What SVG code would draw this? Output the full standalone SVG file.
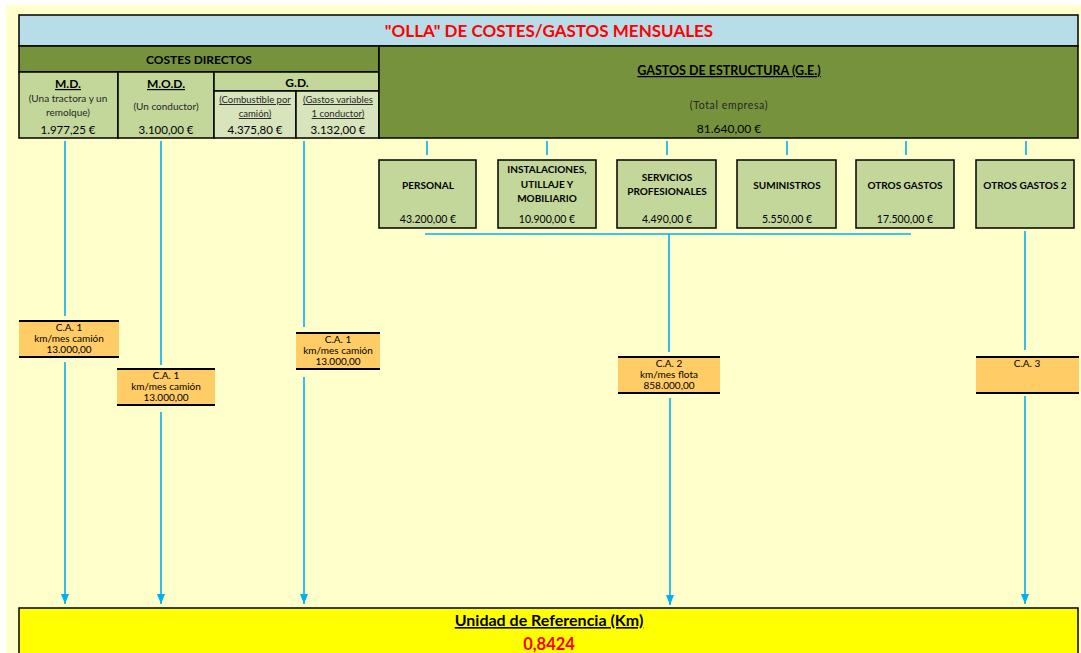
<svg xmlns="http://www.w3.org/2000/svg" width="1081" height="653" viewBox="0 0 1081 653">
<defs>
<marker id="arr" viewBox="0 0 10 8" refX="10" refY="4" markerWidth="10" markerHeight="8" markerUnits="userSpaceOnUse" orient="auto">
<path d="M0,0 L10,4 L0,8 Z" fill="#00B0F0"/>
</marker>
<style>
text{font-family:Lato,"Liberation Sans",sans-serif;fill:#000;text-anchor:middle}
.b{font-weight:bold}
.u{text-decoration:underline}
.s9{font-size:9.5px}
.s10{font-size:10px}
.s11{font-size:11.5px}
.s12{font-size:12px}
.nv{font-size:10.5px}
.ct{font-size:10px}
.cell{stroke:#000;stroke-width:1.5}
.node{fill:#C4D79B;stroke:#000;stroke-width:1.5}
.ca{fill:#FFCC66}
.cal{stroke:#000;stroke-width:2}
.ln{stroke:#00B0F0;stroke-width:1.6;fill:none}
.gray{fill:#262626}
</style>
</defs>
<rect x="0" y="0" width="1081" height="653" fill="#FFFFFF"/>
<rect x="6" y="5" width="1075" height="648" fill="#FFFFCC"/>

<g id="title">
<rect x="19" y="15" width="1059" height="31" fill="#B7DDE8" class="cell"/>
<text x="549" y="37" class="b" style="font-size:17px;fill:#FF0000">"OLLA" DE COSTES/GASTOS MENSUALES</text>
</g>

<g id="costes-directos">
<rect x="19" y="46" width="360" height="26" fill="#76923C" class="cell"/>
<text x="199" y="64" class="b s12">COSTES DIRECTOS</text>
</g>

<g id="md">
<rect x="19" y="72" width="99" height="66" fill="#C4D79B" class="cell"/>
<text x="68" y="88" class="b s12 u">M.D.</text>
<text x="68" y="102" class="s10 gray">(Una tractora y un</text>
<text x="68" y="116" class="s10 gray">remolque)</text>
<text x="68" y="134" class="s11">1.977,25 €</text>
</g>

<g id="mod">
<rect x="118" y="72" width="96" height="66" fill="#C4D79B" class="cell"/>
<text x="166" y="88" class="b s12 u">M.O.D.</text>
<text x="166" y="110" class="s10 gray">(Un conductor)</text>
<text x="166" y="134" class="s11">3.100,00 €</text>
</g>

<g id="gd">
<rect x="214" y="72" width="165" height="19" fill="#C4D79B" class="cell"/>
<text x="297" y="87" class="b s12">G.D.</text>
<rect x="214" y="91" width="82" height="47" fill="#D8E4BC" class="cell"/>
<rect x="296" y="91" width="83" height="47" fill="#D8E4BC" class="cell"/>
<text x="255" y="103" class="s9 gray u">(Combustible por</text>
<text x="255" y="117" class="s9 gray u">camión)</text>
<text x="255" y="134" class="s11">4.375,80 €</text>
<text x="338" y="103" class="s9 gray u">(Gastos variables</text>
<text x="338" y="117" class="s9 gray u">1 conductor)</text>
<text x="338" y="134" class="s11">3.132,00 €</text>
</g>

<g id="ge">
<rect x="379" y="46" width="699" height="92" fill="#76923C" class="cell"/>
<text x="729" y="75" class="b u" style="font-size:12.5px">GASTOS DE ESTRUCTURA (G.E.)</text>
<text x="729" y="109" class="gray" style="font-size:10.5px;letter-spacing:0.6px">(Total empresa)</text>
<text x="729" y="133" style="font-size:12px">81.640,00 €</text>
</g>

<g id="personal">
<rect x="379" y="160" width="97" height="68" class="node"/>
<text x="428" y="189" class="b s10">PERSONAL</text>
<text x="428" y="223" class="nv">43.200,00 €</text>
</g>
<g id="instalaciones">
<rect x="498" y="160" width="98" height="68" class="node"/>
<text x="547" y="173" class="b s10">INSTALACIONES,</text>
<text x="547" y="188" class="b s10">UTILLAJE Y</text>
<text x="547" y="202" class="b s10">MOBILIARIO</text>
<text x="547" y="223" class="nv">10.900,00 €</text>
</g>
<g id="servicios">
<rect x="617" y="160" width="99" height="68" class="node"/>
<text x="667" y="181" class="b s10">SERVICIOS</text>
<text x="667" y="195" class="b s10">PROFESIONALES</text>
<text x="667" y="223" class="nv">4.490,00 €</text>
</g>
<g id="suministros">
<rect x="737" y="160" width="99" height="68" class="node"/>
<text x="787" y="189" class="b s10">SUMINISTROS</text>
<text x="787" y="223" class="nv">5.550,00 €</text>
</g>
<g id="otros-gastos">
<rect x="856" y="160" width="98" height="68" class="node"/>
<text x="905" y="189" class="b s10">OTROS GASTOS</text>
<text x="905" y="223" class="nv">17.500,00 €</text>
</g>
<g id="otros-gastos-2">
<rect x="976" y="160" width="98" height="68" class="node"/>
<text x="1025" y="189" class="b s10">OTROS GASTOS 2</text>
</g>

<g id="ca1-md">
<rect x="19" y="321" width="100" height="36" class="ca"/>
<line x1="19" y1="321" x2="119" y2="321" class="cal"/>
<line x1="19" y1="357" x2="119" y2="357" class="cal"/>
<text x="69" y="331" class="ct">C.A. 1</text>
<text x="69" y="342" class="ct">km/mes camión</text>
<text x="69" y="353" class="ct">13.000,00</text>
</g>
<g id="ca1-mod">
<rect x="117" y="369" width="98" height="36" class="ca"/>
<line x1="117" y1="369" x2="215" y2="369" class="cal"/>
<line x1="117" y1="405" x2="215" y2="405" class="cal"/>
<text x="166" y="379" class="ct">C.A. 1</text>
<text x="166" y="390" class="ct">km/mes camión</text>
<text x="166" y="401" class="ct">13.000,00</text>
</g>
<g id="ca1-gd">
<rect x="296" y="333" width="84" height="36" class="ca"/>
<line x1="296" y1="333" x2="380" y2="333" class="cal"/>
<line x1="296" y1="369" x2="380" y2="369" class="cal"/>
<text x="338" y="343" class="ct">C.A. 1</text>
<text x="338" y="354" class="ct">km/mes camión</text>
<text x="338" y="365" class="ct">13.000,00</text>
</g>
<g id="ca2">
<rect x="618" y="357" width="102" height="36" class="ca"/>
<line x1="618" y1="357" x2="720" y2="357" class="cal"/>
<line x1="618" y1="393" x2="720" y2="393" class="cal"/>
<text x="669" y="367" class="ct">C.A. 2</text>
<text x="669" y="378" class="ct">km/mes flota</text>
<text x="669" y="389" class="ct">858.000,00</text>
</g>
<g id="ca3">
<rect x="976" y="357" width="103" height="36" class="ca"/>
<line x1="976" y1="357" x2="1079" y2="357" class="cal"/>
<line x1="976" y1="393" x2="1079" y2="393" class="cal"/>
<text x="1027" y="367" class="ct">C.A. 3</text>
</g>

<g id="unidad">
<rect x="19" y="608" width="1059" height="50" fill="#FFFF00" class="cell"/>
<text x="549" y="626" class="b u" style="font-size:16px">Unidad de Referencia (Km)</text>
<text x="549" y="650" class="b" style="font-size:16.5px;fill:#FF0000">0,8424</text>
</g>

<g id="connectors">
<line x1="65" y1="141" x2="65" y2="316" class="ln"/>
<line x1="65" y1="362" x2="65" y2="604" class="ln" marker-end="url(#arr)"/>
<line x1="161" y1="141" x2="161" y2="365" class="ln"/>
<line x1="161" y1="412" x2="161" y2="604" class="ln" marker-end="url(#arr)"/>
<line x1="304" y1="141" x2="304" y2="327" class="ln"/>
<line x1="304" y1="377" x2="304" y2="604" class="ln" marker-end="url(#arr)"/>
<line x1="427" y1="141" x2="427" y2="155" class="ln"/>
<line x1="547" y1="141" x2="547" y2="155" class="ln"/>
<line x1="667" y1="141" x2="667" y2="155" class="ln"/>
<line x1="787" y1="141" x2="787" y2="155" class="ln"/>
<line x1="906" y1="141" x2="906" y2="155" class="ln"/>
<line x1="1026" y1="141" x2="1026" y2="155" class="ln"/>
<line x1="425" y1="234" x2="911" y2="234" class="ln"/>
<line x1="669" y1="234" x2="669" y2="352" class="ln"/>
<line x1="670" y1="398" x2="670" y2="605" class="ln" marker-end="url(#arr)"/>
<line x1="1025" y1="231" x2="1025" y2="350" class="ln"/>
<line x1="1025" y1="396" x2="1025" y2="604" class="ln" marker-end="url(#arr)"/>
</g>
</svg>
